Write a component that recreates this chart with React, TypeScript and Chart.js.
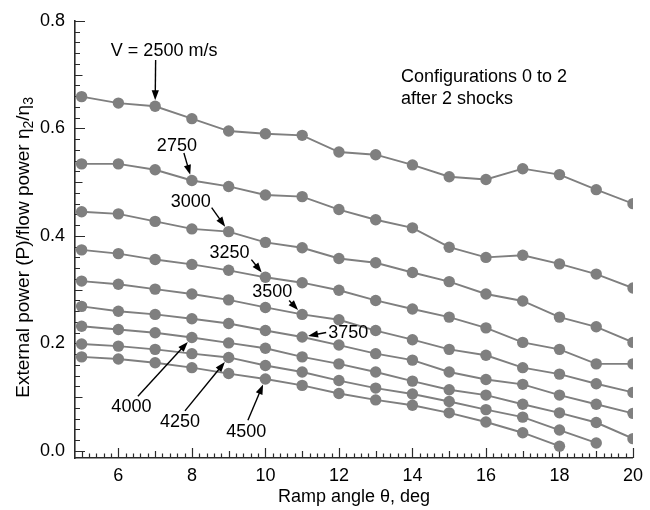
import React, { useEffect, useRef } from "react";
import { Chart, registerables } from "chart.js";

Chart.register(...registerables);

// Ramp angle (deg) for each computed configuration
const rampAngles = [5, 6, 7, 8, 9, 10, 11, 12, 13, 14, 15, 16, 17, 18, 19, 20];

// Flight speeds, m/s
const speeds = [2500, 2750, 3000, 3250, 3500, 3750, 4000, 4250, 4500];

// External power / flow power ratio per speed (leading angles from 5 deg on)
const ratio2500 = [0.659, 0.647, 0.641, 0.618, 0.595, 0.590, 0.587, 0.556, 0.551, 0.532, 0.510, 0.505, 0.525, 0.514, 0.486, 0.460];
const ratio2750 = [0.534, 0.534, 0.523, 0.503, 0.492, 0.476, 0.473, 0.449, 0.430, 0.415, 0.379, 0.360, 0.364, 0.348, 0.329, 0.303];
const ratio3000 = [0.445, 0.441, 0.427, 0.413, 0.408, 0.388, 0.378, 0.358, 0.350, 0.332, 0.315, 0.292, 0.279, 0.249, 0.231, 0.202];
const ratio3250 = [0.374, 0.367, 0.356, 0.347, 0.336, 0.323, 0.313, 0.299, 0.280, 0.264, 0.249, 0.229, 0.202, 0.189, 0.162, 0.162];
const ratio3500 = [0.316, 0.310, 0.301, 0.292, 0.281, 0.267, 0.254, 0.244, 0.224, 0.207, 0.189, 0.178, 0.155, 0.143, 0.125, 0.109];
const ratio3750 = [0.269, 0.260, 0.254, 0.246, 0.237, 0.224, 0.212, 0.197, 0.181, 0.169, 0.147, 0.133, 0.124, 0.104, 0.087, 0.070];
const ratio4000 = [0.232, 0.226, 0.220, 0.211, 0.201, 0.191, 0.175, 0.162, 0.147, 0.130, 0.114, 0.104, 0.087, 0.071, 0.053, 0.023];
const ratio4250 = [0.199, 0.195, 0.189, 0.181, 0.174, 0.159, 0.147, 0.131, 0.117, 0.106, 0.092, 0.077, 0.063, 0.039, 0.015];
const ratio4500 = [0.175, 0.171, 0.164, 0.155, 0.144, 0.134, 0.122, 0.107, 0.095, 0.085, 0.071, 0.054, 0.034, 0.009];

const ratioSeries = [ratio2500, ratio2750, ratio3000, ratio3250, ratio3500, ratio3750, ratio4000, ratio4250, ratio4500];

// Labelled axis ticks
const xTickValues = [6, 8, 10, 12, 14, 16, 18, 20];
const yTickValues = [0.0, 0.2, 0.4, 0.6, 0.8];

const FONT = '"Liberation Sans", Arial, Helvetica, sans-serif';
const INK = "#000";
const AXIS = "#2a2a2a";
const GREY = "#7f7f7f";
const MARKER_R = 5.7;

// Callouts: which marker the arrow points at, text centre/baseline and arrow tail, in px from that marker
const callouts = [
  { text: "V = 2500 m/s", speed: 2500, angle: 7, tx: 9, ty: -50.7, ax: 0.5, ay: -46.4 },
  { text: "2750", speed: 2750, angle: 8, tx: -15, ty: -30, ax: -8, ay: -27.5 },
  { text: "3000", speed: 3000, angle: 9, tx: -38, ty: -24.2, ax: -17, ay: -24 },
  { text: "3250", speed: 3250, angle: 10, tx: -36, ty: -19.7, ax: -14, ay: -17.7 },
  { text: "3500", speed: 3500, angle: 11, tx: -30, ty: -17, ax: -13, ay: -14 },
  { text: "3750", speed: 3750, angle: 11, tx: 46, ty: 0.5, ax: 24, ay: -4.5 },
  { text: "4000", speed: 4000, angle: 8, tx: -60.5, ty: 74.4, ax: -54, ay: 58.7 },
  { text: "4250", speed: 4250, angle: 9, tx: -48.7, ty: 70, ax: -43.7, ay: 53.4 },
  { text: "4500", speed: 4500, angle: 10, tx: -19.2, ty: 58, ax: -17.5, ay: 41.2 },
];

const noteLines = ["Configurations 0 to 2", "after 2 shocks"];

const inwardTicks = {
  id: "inwardTicks",
  beforeDatasetsDraw(chart: any) {
    const { ctx, chartArea, scales } = chart;
    const x = scales.x;
    const y = scales.y;
    ctx.save();
    ctx.strokeStyle = AXIS;
    ctx.lineWidth = 1.2;
    ctx.beginPath();
    // x: every 0.2 deg, longer at odd and even integers
    for (let i = 0; i <= 75; i++) {
      const v = 5 + i * 0.2;
      const len = i % 10 === 5 ? 10 : i % 5 === 0 ? 7 : 4.5;
      const px = Math.round(x.getPixelForValue(v)) + 0.5;
      ctx.moveTo(px, chartArea.bottom);
      ctx.lineTo(px, chartArea.bottom - len);
    }
    // y: every 0.02, longer at 0.1 and 0.2 steps
    for (let j = 0; j <= 40; j++) {
      const v = j * 0.02;
      const len = j % 10 === 0 ? 10 : j % 5 === 0 ? 7.5 : 5;
      const py = Math.round(y.getPixelForValue(v)) + 0.5;
      ctx.moveTo(chartArea.left, py);
      ctx.lineTo(chartArea.left + len, py);
    }
    ctx.stroke();
    ctx.restore();
  },
};

const callout = {
  id: "callout",
  afterDatasetsDraw(chart: any) {
    const { ctx, scales } = chart;
    const x = scales.x;
    const y = scales.y;
    ctx.save();
    ctx.fillStyle = INK;
    ctx.strokeStyle = INK;
    ctx.font = `18px ${FONT}`;
    ctx.textAlign = "center";
    ctx.textBaseline = "alphabetic";
    for (const c of callouts) {
      const series = ratioSeries[speeds.indexOf(c.speed)];
      const k = rampAngles.indexOf(c.angle);
      const px = x.getPixelForValue(c.angle);
      const py = y.getPixelForValue(series[k]);
      ctx.fillText(c.text, px + c.tx, py + c.ty);
      const sx = px + c.ax;
      const sy = py + c.ay;
      const dx = px - sx;
      const dy = py - sy;
      const d = Math.hypot(dx, dy);
      const ux = dx / d;
      const uy = dy / d;
      const tipX = px - ux * (MARKER_R + 0.3);
      const tipY = py - uy * (MARKER_R + 0.3);
      const head = 10;
      const half = 3.6;
      const bx = tipX - ux * head;
      const by = tipY - uy * head;
      ctx.lineWidth = 1.4;
      ctx.beginPath();
      ctx.moveTo(sx, sy);
      ctx.lineTo(bx + ux, by + uy);
      ctx.stroke();
      ctx.beginPath();
      ctx.moveTo(tipX, tipY);
      ctx.lineTo(bx - uy * half, by + ux * half);
      ctx.lineTo(bx + uy * half, by - ux * half);
      ctx.closePath();
      ctx.fill();
    }
    ctx.textAlign = "left";
    ctx.fillText(noteLines[0], 401, 81.7);
    ctx.fillText(noteLines[1], 401, 104);
    ctx.restore();
  },
  afterDraw(chart: any) {
    // y-axis title with subscripted efficiencies
    const { ctx, chartArea } = chart;
    const parts: [string, boolean][] = [
      ["External power (P)/flow power \u03b7", false],
      ["2", true],
      ["/\u03b7", false],
      ["3", true],
    ];
    const big = `19px ${FONT}`;
    const small = `14px ${FONT}`;
    ctx.save();
    let total = 0;
    for (const [t, sub] of parts) {
      ctx.font = sub ? small : big;
      total += ctx.measureText(t).width;
    }
    const cy = (chartArea.top + chartArea.bottom) / 2 + 8;
    ctx.translate(28.5, cy);
    ctx.rotate(-Math.PI / 2);
    ctx.fillStyle = INK;
    ctx.textBaseline = "alphabetic";
    ctx.textAlign = "left";
    let cx = -total / 2;
    for (const [t, sub] of parts) {
      ctx.font = sub ? small : big;
      ctx.fillText(t, cx, sub ? 4.5 : 0);
      cx += ctx.measureText(t).width;
    }
    ctx.restore();
  },
};

export default function App() {
  const canvasRef = useRef<HTMLCanvasElement | null>(null);

  useEffect(() => {
    const canvas = canvasRef.current;
    if (!canvas) return;
    const datasets = speeds.map((s, i) => ({
      label: `${s} m/s`,
      data: ratioSeries[i].map((v, k) => ({ x: rampAngles[k], y: v })),
      borderColor: GREY,
      backgroundColor: GREY,
      borderWidth: 1.9,
      pointRadius: MARKER_R,
      pointBackgroundColor: GREY,
      pointBorderWidth: 0,
      tension: 0,
    }));

    const chart = new Chart(canvas, {
      type: "line",
      data: { datasets },
      options: {
        responsive: false,
        animation: false,
        devicePixelRatio: 1,
        layout: { padding: { left: 0, right: 11, top: 20, bottom: 0 } },
        plugins: { legend: { display: false }, tooltip: { enabled: false } },
        scales: {
          x: {
            type: "linear",
            min: 4.82,
            max: 20,
            grid: { display: false, drawTicks: false },
            border: { display: true, color: AXIS, width: 1.6 },
            afterBuildTicks: (scale: any) => {
              scale.ticks = xTickValues.map((v) => ({ value: v }));
            },
            afterFit: (scale: any) => {
              scale.height = 52;
            },
            ticks: {
              color: INK,
              font: { family: FONT, size: 18 },
              padding: 7,
              maxRotation: 0,
              autoSkip: false,
              callback: (v: any) => String(v),
            },
            title: {
              display: true,
              text: "Ramp angle \u03b8, deg",
              color: INK,
              font: { family: FONT, size: 18 },
              padding: { top: 0, bottom: 2 },
            },
          },
          y: {
            type: "linear",
            min: -0.013,
            max: 0.8,
            grid: { display: false, drawTicks: false },
            border: { display: true, color: AXIS, width: 1.6 },
            afterBuildTicks: (scale: any) => {
              scale.ticks = yTickValues.map((v) => ({ value: v }));
            },
            afterFit: (scale: any) => {
              scale.width = 75;
            },
            ticks: {
              color: INK,
              font: { family: FONT, size: 18 },
              padding: 10,
              autoSkip: false,
              callback: (v: any) => Number(v).toFixed(1),
            },
          },
        },
      },
      plugins: [inwardTicks, callout],
    });
    return () => chart.destroy();
  }, []);

  return (
    <div style={{ position: "fixed", left: 0, top: 0, width: 650, height: 510, background: "#fff" }}>
      <canvas ref={canvasRef} width={650} height={510} />
    </div>
  );
}
